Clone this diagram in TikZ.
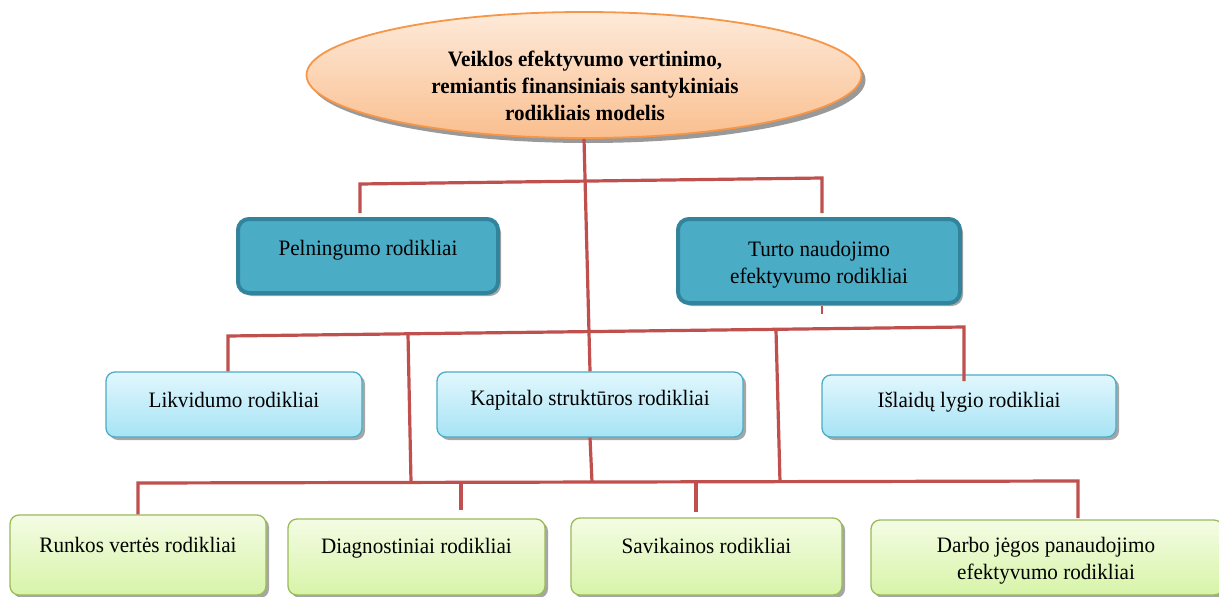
\documentclass[tikz,border=0pt]{standalone}
\usepackage{fontspec}
\setmainfont{Liberation Serif}
\usetikzlibrary{shapes.geometric,shadows}
\definecolor{linered}{HTML}{C0504D}
\definecolor{ellTop}{HTML}{FDEADA}
\definecolor{ellBot}{HTML}{FABF8F}
\definecolor{ellDraw}{HTML}{F79646}
\definecolor{tealFill}{HTML}{4BACC6}
\definecolor{tealDraw}{HTML}{31849B}
\definecolor{blueTop}{HTML}{E2F7FD}
\definecolor{blueBot}{HTML}{A6E3F5}
\definecolor{blueDraw}{HTML}{4BACC6}
\definecolor{greenTop}{HTML}{F4FCE4}
\definecolor{greenBot}{HTML}{D7F4A8}
\definecolor{greenDraw}{HTML}{9BBB59}
\tikzset{
  shad/.style={drop shadow={shadow xshift=3pt,shadow yshift=-3pt,fill=black,opacity=0.35}},
  rootbox/.style={ellipse,top color=ellTop,bottom color=ellBot,draw=ellDraw,line width=1.8pt,
    drop shadow={shadow xshift=4pt,shadow yshift=-5pt,fill=black,opacity=0.4},inner sep=0pt},
  tealbox/.style={rectangle,rounded corners=11pt,fill=tealFill,draw=tealDraw,line width=4pt,shad,inner sep=0pt},
  bluebox/.style={rectangle,rounded corners=9pt,top color=blueTop,bottom color=blueBot,draw=blueDraw,line width=1.3pt,shad,inner sep=0pt},
  greenbox/.style={rectangle,rounded corners=9pt,top color=greenTop,bottom color=greenBot,draw=greenDraw,line width=1.3pt,shad,inner sep=0pt},
  txt/.style={font=\fontsize{22}{27}\selectfont\addfontfeature{FakeStretch=0.96},align=center,inner sep=0pt},
  ttl/.style={font=\bfseries\fontsize{22}{27}\selectfont\addfontfeature{FakeStretch=0.96},align=center,inner sep=0pt},
  conn/.style={draw=linered,line width=3.2pt},
}
\begin{document}
\begin{tikzpicture}[x=1pt,y=-1pt]
\useasboundingbox[fill=white] (0,0) rectangle (1219,597);
% root
\node[rootbox,minimum width=555pt,minimum height=126pt] (root) at (584,75) {};
\node[ttl] (rootT) at (585,86) {Veiklos efektyvumo vertinimo,\\remiantis finansiniais santykiniais\\rodikliais modelis};
% level 1
\node[tealbox,minimum width=260pt,minimum height=74pt] (pel) at (368,256) {};
\node[txt] (pelT) at (368,250) {Pelningumo rodikliai};
\node[tealbox,minimum width=282pt,minimum height=84pt] (tur) at (819,261) {};
\node[txt] (turT) at (819,265) {Turto naudojimo\\efektyvumo rodikliai};
% level 2
\node[bluebox,minimum width=256pt,minimum height=65pt] (lik) at (234,404.5) {};
\node[txt] (likT) at (234,400) {Likvidumo rodikliai};
\node[bluebox,minimum width=306pt,minimum height=65pt] (kap) at (590,404.5) {};
\node[txt] (kapT) at (590,400) {Kapitalo struktūros rodikliai};
\node[bluebox,minimum width=294pt,minimum height=62pt] (isl) at (969,406) {};
\node[txt] (islT) at (969,402) {Išlaidų lygio rodikliai};
% level 3
\node[greenbox,minimum width=256pt,minimum height=80pt] (run) at (138,555) {};
\node[txt] (runT) at (138,545) {Runkos vertės rodikliai};
\node[greenbox,minimum width=257pt,minimum height=76pt] (dia) at (416.5,557) {};
\node[txt] (diaT) at (416.5,548) {Diagnostiniai rodikliai};
\node[greenbox,minimum width=271pt,minimum height=77pt] (sav) at (706.5,556.5) {};
\node[txt] (savT) at (706.5,546) {Savikainos rodikliai};
\node[greenbox,minimum width=352pt,minimum height=75pt] (dar) at (1047,557.5) {};
\node[txt] (darT) at (1046,561) {Darbo jėgos panaudojimo\\efektyvumo rodikliai};
% connectors
\coordinate (a1) at (360,184);
\coordinate (a2) at (822,178);
\coordinate (pelIn) at (360,213);
\coordinate (turIn) at (822,213);
\draw[conn] (pelIn) -- (a1) -- (a2) -- (turIn);
\draw[conn] (root.south) -- (kap.north);
\coordinate (s1) at (822,306);
\coordinate (s2) at (822,314);
\draw[draw=linered,line width=1.5pt] (s1) -- (s2);
\coordinate (b1) at (228,336);
\coordinate (b2) at (964,327);
\coordinate (b3) at (408,334);
\coordinate (b4) at (411,482);
\coordinate (b5) at (776,330);
\coordinate (b6) at (780,482);
\coordinate (islIn) at (964,381);
\draw[conn] (lik.north -| b1) -- (b1) -- (b2) -- (islIn);
\draw[conn] (b3) -- (b4);
\draw[conn] (b5) -- (b6);
\coordinate (kb) at (592,482);
\draw[conn] (kap.south) -- (kb);
\coordinate (c1) at (138,483);
\coordinate (c2) at (1078,481);
\coordinate (c3) at (461,482);
\coordinate (c4) at (696,482);
\coordinate (diaIn) at (461,510);
\coordinate (savIn) at (696,512);
\coordinate (darIn) at (1078,518);
\draw[conn] (run.north -| c1) -- (c1) -- (c2) -- (darIn);
\draw[conn] (c3) -- (diaIn);
\draw[conn] (c4) -- (savIn);
\end{tikzpicture}
\end{document}
